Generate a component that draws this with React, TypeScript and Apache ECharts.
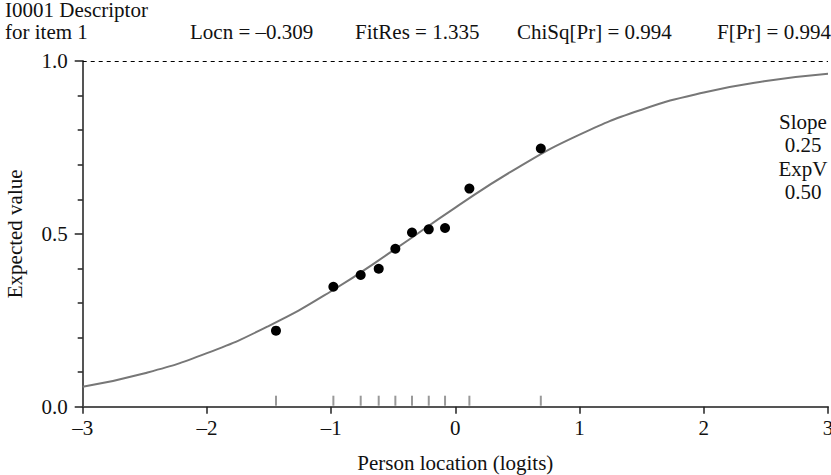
import React, { useEffect, useRef } from "react";
import * as echarts from "echarts";

const personLocs = [-1.444, -0.982, -0.762, -0.617, -0.483, -0.349, -0.214, -0.083, 0.113, 0.688];
const observed = [0.22, 0.347, 0.381, 0.399, 0.457, 0.504, 0.513, 0.517, 0.631, 0.747];
const curveX = [-3, -2.5, -2, -1.5, -1, -0.5, 0, 0.5, 1, 1.5, 2, 2.5, 3];
const curveY = [0.058, 0.097, 0.155, 0.234, 0.334, 0.452, 0.576, 0.691, 0.787, 0.859, 0.909, 0.942, 0.963];
const headerLeft = ["I0001 Descriptor", "for item 1"];
const headerStats = ["Locn = –0.309", "FitRes = 1.335", "ChiSq[Pr] = 0.994", "F[Pr] = 0.994"];
const sideLabels = ["Slope", "0.25", "ExpV", "0.50"];

const FONT = '"Liberation Serif", "DejaVu Serif", serif';

export default function App() {
  const ref = useRef<HTMLDivElement>(null);
  useEffect(() => {
    document.body.style.margin = "0";
    const chart = echarts.init(ref.current!, undefined, { renderer: "svg" });
    const statX = [190, 355, 517, 717];
    const textStyle = (text: string, x: number, y: number, align: string = "left") => ({
      type: "text",
      x,
      y,
      style: {
        text,
        font: `21px ${FONT}`,
        fill: "#111",
        textAlign: align,
        textVerticalAlign: "middle",
      },
    });
    const graphics: any[] = [
      textStyle(headerLeft[0], 5, 10),
      textStyle(headerLeft[1], 5, 32),
      ...headerStats.map((t, i) => textStyle(t, statX[i], 32)),
      ...sideLabels.map((t, i) => textStyle(t, 803, 122 + i * 23.3, "center")),
    ];
    chart.setOption({
      animation: false,
      grid: { left: 82.7, right: 3, top: 61, bottom: 68.3, containLabel: false, outerBoundsMode: "none" },
      xAxis: {
        type: "value",
        min: -3,
        max: 3,
        interval: 1,
        name: "Person location (logits)",
        nameLocation: "middle",
        nameGap: 46,
        nameTextStyle: { fontFamily: FONT, fontSize: 21, color: "#111" },
        axisLine: { show: true, onZero: false, lineStyle: { color: "#555", width: 2 } },
        axisTick: { show: true, length: 7, lineStyle: { color: "#222", width: 1.5 } },
        axisLabel: {
          fontFamily: FONT,
          fontSize: 21,
          color: "#111",
          margin: 11,
          formatter: (v: number) => String(v).replace("-", "–"),
        },
        splitLine: { show: false },
      },
      yAxis: {
        type: "value",
        min: 0,
        max: 1,
        interval: 0.5,
        name: "Expected value",
        nameLocation: "middle",
        nameGap: 57,
        nameTextStyle: { fontFamily: FONT, fontSize: 21, color: "#111" },
        axisLine: { show: true, onZero: false, lineStyle: { color: "#555", width: 2 } },
        axisTick: { show: true, length: 8, lineStyle: { color: "#222", width: 1.5 } },
        minorTick: { show: true, splitNumber: 5, length: 5, lineStyle: { color: "#222", width: 1.5 } },
        axisLabel: {
          fontFamily: FONT,
          fontSize: 21,
          color: "#111",
          margin: 15,
          formatter: (v: number) => v.toFixed(1),
        },
        splitLine: { show: false },
      },
      graphic: graphics,
      series: [
        {
          type: "line",
          data: curveX.map((x, i) => [x, curveY[i]]),
          smooth: true,
          showSymbol: false,
          lineStyle: { color: "#777", width: 2 },
          z: 2,
        },
        {
          type: "scatter",
          data: personLocs.map((x) => [x, 0]),
          symbol: "rect",
          symbolSize: [2, 10],
          symbolOffset: [0, -6],
          itemStyle: { color: "#999", opacity: 1 },
          z: 1,
        },
        {
          type: "scatter",
          data: personLocs.map((x, i) => [x, observed[i]]),
          symbolSize: 10,
          itemStyle: { color: "#000", opacity: 1 },
          z: 3,
          markLine: {
            silent: true,
            symbol: "none",
            label: { show: false },
            lineStyle: { color: "#000", type: [4, 4], width: 1.2 },
            data: [{ yAxis: 1 }],
          },
        },
      ],
    });
    return () => chart.dispose();
  }, []);
  return <div ref={ref} style={{ width: 831, height: 475 }} />;
}
